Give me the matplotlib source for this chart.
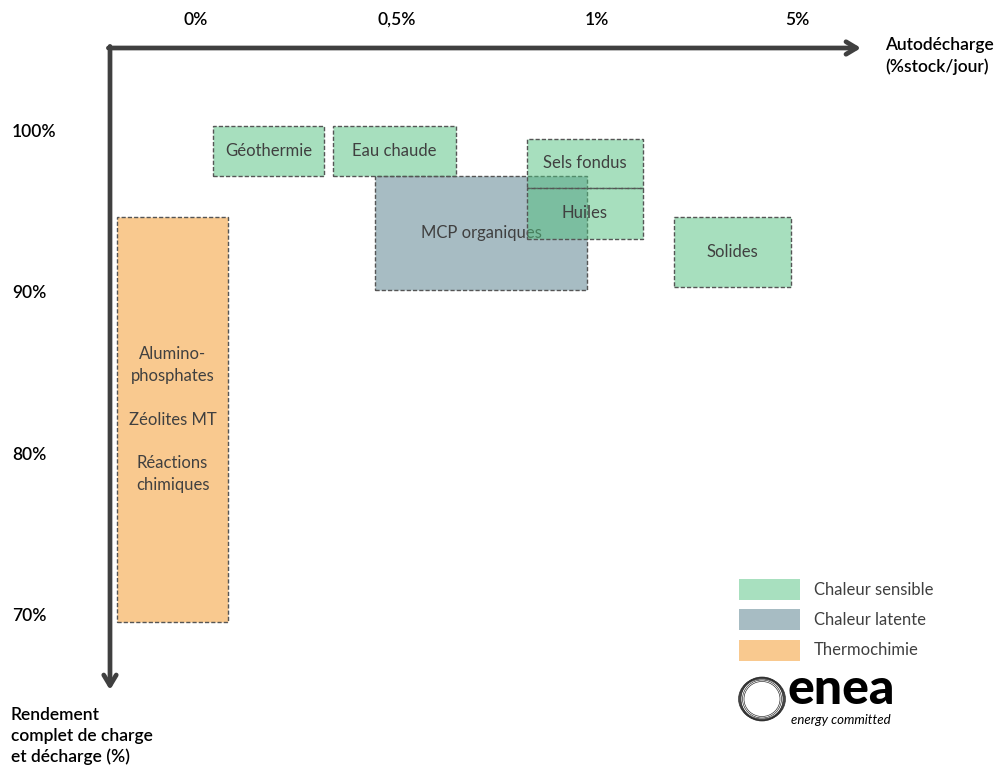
import matplotlib
matplotlib.use("Agg")
import matplotlib.pyplot as plt
from matplotlib.patches import Rectangle, Ellipse

plt.rcParams['font.family'] = ['Lato', 'DejaVu Sans']

# Self-discharge axis: tick labels sit at positions 0..3 (non-linear scale)
x_ticks = [0, 1, 2, 3]
x_labels = ["0%", "0,5%", "1%", "5%"]
# Round-trip efficiency axis (%)
y_ticks = [100, 90, 80, 70]
y_labels = ["100%", "90%", "80%", "70%"]

# Technologies: name, family, x range (tick units), y range (%)
names = ["Géothermie", "Eau chaude", "MCP organiques", "Sels fondus", "Huiles", "Solides",
         "Alumino-\nphosphates\n\nZéolites MT\n\nRéactions\nchimiques"]
families = ["sensible", "sensible", "latente", "sensible", "sensible", "sensible", "thermo"]
x_min = [0.085, 0.684, 0.894, 1.652, 1.652, 2.386, -0.394]
x_max = [0.639, 1.298, 1.952, 2.231, 2.231, 2.970, 0.160]
y_min = [97.27, 97.27, 90.20, 96.53, 93.37, 90.39, 69.62]
y_max = [100.37, 100.37, 97.27, 99.57, 96.53, 94.73, 94.73]

legend_keys = ["sensible", "latente", "thermo"]
legend_labels = ["Chaleur sensible", "Chaleur latente", "Thermochimie"]

fill = {
    "sensible": (81/255, 193/255, 127/255, 0.5),
    "latente": "#a7bcc3",
    "thermo": "#f9c98f",
}
swatch = {"sensible": "#a8e0bf", "latente": "#a7bcc3", "thermo": "#f9c98f"}
zorders = {"latente": 2, "thermo": 2, "sensible": 4}

# Pixel-to-data helpers for placing layout elements
XS, X0 = 200.333, 196
YS, Y0 = 16.133, 132


def px_x(p):
    return (p - X0) / XS


def px_y(p):
    return 100 - (p - Y0) / YS


fig = plt.figure(figsize=(9.95, 7.67), dpi=100)
ax = fig.add_axes([0, 0, 1, 1])
ax.set_xlim(px_x(0), px_x(995))
ax.set_ylim(px_y(767), px_y(0))
ax.axis("off")

text_col = "#404040"
axis_col = "#404040"

# Axes with arrows, from the common origin
x0, y0 = px_x(110), px_y(48)
ax.annotate("", xy=(px_x(861), y0), xytext=(x0 - 0.008, y0),
            arrowprops=dict(arrowstyle="->,head_length=0.75,head_width=0.45",
                            color=axis_col, lw=3.4, shrinkA=0, shrinkB=0))
ax.annotate("", xy=(x0, px_y(690)), xytext=(x0, y0 + 0.1),
            arrowprops=dict(arrowstyle="->,head_length=0.75,head_width=0.45",
                            color=axis_col, lw=3.4, shrinkA=0, shrinkB=0))

for xt, lab in zip(x_ticks, x_labels):
    ax.text(xt, px_y(20), lab, ha="center", va="center", fontsize=12.5, color="black",
            fontweight="semibold")
for yt, lab in zip(y_ticks, y_labels):
    ax.text(px_x(12), yt, lab, ha="left", va="center", fontsize=12.5, color="black",
            fontweight="semibold")

ax.text(px_x(885), px_y(56), "Autodécharge\n(%stock/jour)", ha="left", va="center",
        fontsize=12.5, color="black", linespacing=1.38, fontweight="semibold")
ax.text(px_x(11), px_y(736), "Rendement\ncomplet de charge\net décharge (%)", ha="left",
        va="center", fontsize=12.5, color="black", linespacing=1.38, fontweight="semibold")

# Technology boxes
for nm, fam, xa, xb, ya, yb in zip(names, families, x_min, x_max, y_min, y_max):
    z = zorders[fam]
    ax.add_patch(Rectangle((xa, ya), xb - xa, yb - ya, facecolor=fill[fam],
                           edgecolor="#555555", lw=1.0, linestyle=(0, (3, 1.5)),
                           zorder=z))
    ax.text((xa + xb) / 2, (ya + yb) / 2, nm, ha="center", va="center",
            fontsize=12, color=text_col, zorder=z + 0.5 if fam != "latente" else 3,
            linespacing=1.44)

# Legend
for i, (key, lab) in enumerate(zip(legend_keys, legend_labels)):
    top_px = 579 + i * 30.5
    ax.add_patch(Rectangle((px_x(739), px_y(top_px + 21)), 61 / XS, 21 / YS,
                           facecolor=swatch[key], edgecolor="none", zorder=2))
    ax.text(px_x(814), px_y(top_px + 10.5), lab,
            ha="left", va="center", fontsize=12, color=text_col)

# Logo
cx, cy = px_x(762), px_y(699)
for dw, dh in [(0, 0), (2, -1), (-2, 1), (1, 2), (-1, -2), (3, 1), (-5, -4), (-8, -7)]:
    ax.add_patch(Ellipse((cx, cy), (44 + dw) / XS, (42 + dh) / YS,
                         fill=False, edgecolor="#222222", lw=0.45, zorder=3))
ax.text(px_x(788), px_y(704), "enea", ha="left",
        va="baseline", fontsize=36, fontweight="black", color="black")
ax.text(px_x(791), px_y(720), "energy committed",
        ha="left", va="center", fontsize=9.5, style="italic", color="black")

fig.savefig("out.png", dpi=100)
